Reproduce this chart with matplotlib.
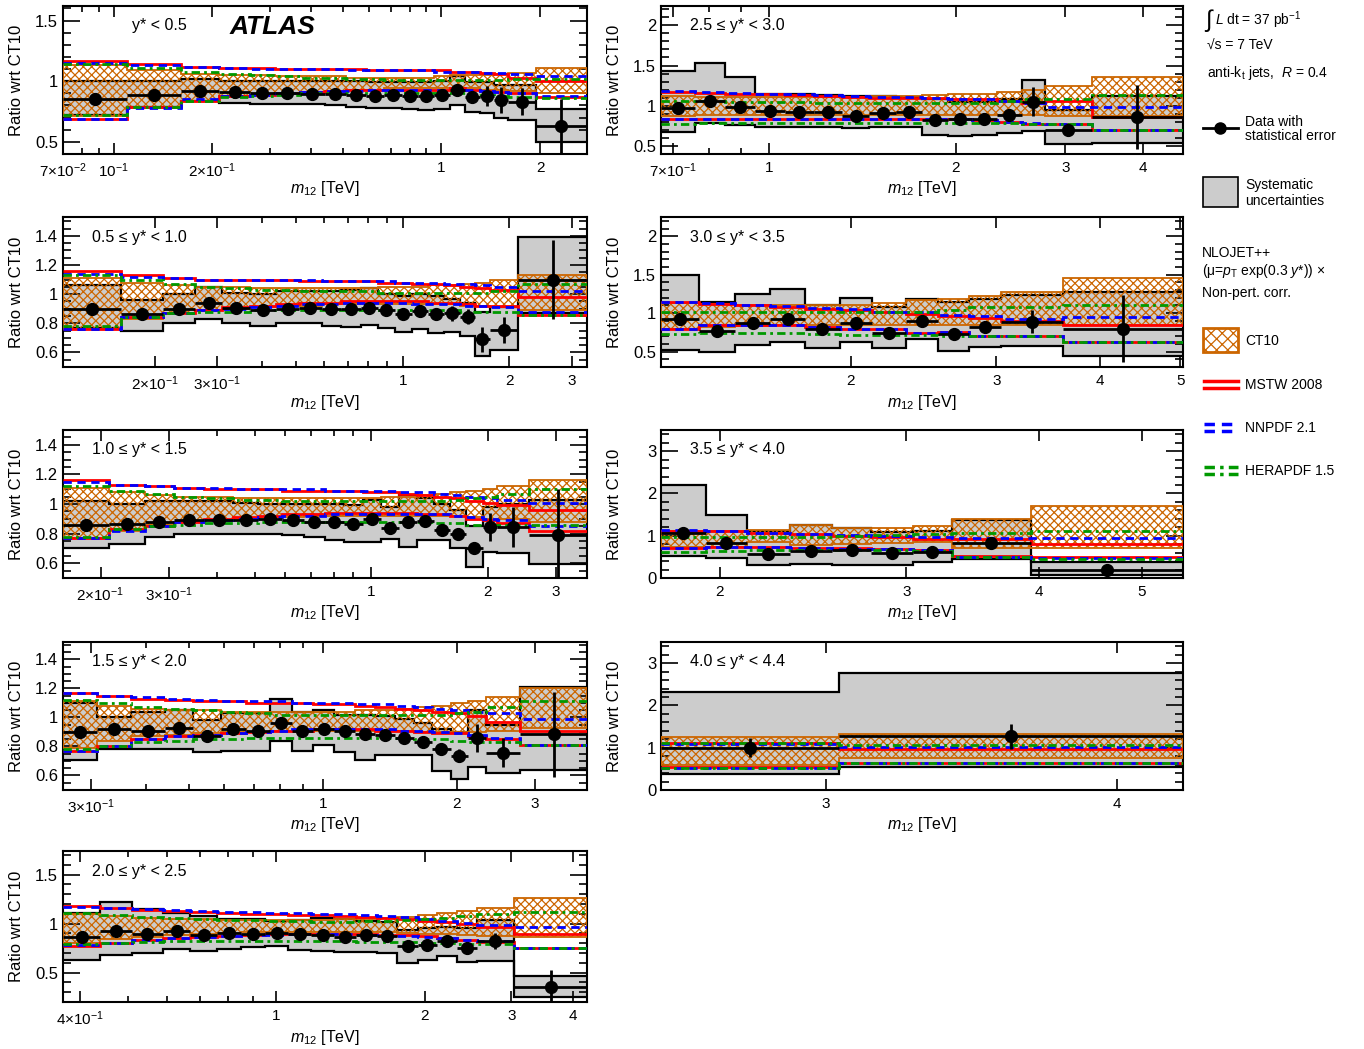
import matplotlib
matplotlib.use('Agg')
import matplotlib.pyplot as plt
import numpy as np
from matplotlib.ticker import (FixedLocator, FixedFormatter, LogLocator, NullFormatter,
                               MultipleLocator, FormatStrFormatter)
from matplotlib.patches import Rectangle

plt.rcParams['font.family'] = ['Liberation Sans', 'DejaVu Sans']
plt.rcParams['mathtext.fontset'] = 'custom'
plt.rcParams['mathtext.rm'] = 'Liberation Sans'
plt.rcParams['mathtext.it'] = 'Liberation Sans:italic'
plt.rcParams['mathtext.bf'] = 'Liberation Sans:bold'
plt.rcParams['hatch.linewidth'] = 0.9

GRAY = '#cccccc'
ORANGE = '#cc6600'
GREEN = '#009900'
HATCH = 'xxxx'

# ---------------- data (ratio wrt CT10), bins in TeV ----------------
# y* < 0.5
p1_edges = [0.07, 0.11, 0.16, 0.21, 0.26, 0.31, 0.37, 0.44, 0.51, 0.59, 0.67, 0.76, 0.85, 0.95, 1.06, 1.18, 1.31, 1.45, 1.6, 1.94, 2.78]
p1_data = [0.855, 0.885, 0.92, 0.91, 0.90, 0.905, 0.895, 0.895, 0.89, 0.877, 0.89, 0.88, 0.877, 0.89, 0.93, 0.87, 0.877, 0.845, 0.83, 0.63]
p1_stat = [0.005, 0.005, 0.005, 0.005, 0.005, 0.005, 0.005, 0.005, 0.005, 0.008, 0.01, 0.01, 0.012, 0.015, 0.03, 0.05, 0.08, 0.11, 0.11, 0.22]
p1_sys_lo = [0.72, 0.79, 0.84, 0.82, 0.815, 0.81, 0.81, 0.80, 0.79, 0.78, 0.78, 0.77, 0.76, 0.77, 0.80, 0.745, 0.74, 0.70, 0.68, 0.50]
p1_sys_hi = [1.00, 1.00, 1.02, 1.0, 1.0, 1.0, 1.0, 1.0, 1.0, 0.99, 0.99, 0.99, 0.99, 1.0, 1.04, 0.99, 0.99, 0.97, 0.97, 0.77]
p1_ct10_lo = [0.71, 0.78, 0.84, 0.88, 0.89, 0.90, 0.91, 0.92, 0.93, 0.93, 0.94, 0.94, 0.94, 0.94, 0.94, 0.94, 0.93, 0.93, 0.92, 0.90]
p1_ct10_hi = [1.13, 1.09, 1.06, 1.05, 1.05, 1.04, 1.04, 1.04, 1.03, 1.03, 1.03, 1.03, 1.03, 1.04, 1.05, 1.05, 1.05, 1.06, 1.07, 1.11]
p1_mstw_lo = [0.69, 0.79, 0.84, 0.88, 0.89, 0.90, 0.91, 0.92, 0.93, 0.93, 0.93, 0.93, 0.93, 0.93, 0.94, 0.93, 0.92, 0.91, 0.90, 0.87]
p1_mstw_hi = [1.17, 1.14, 1.12, 1.11, 1.11, 1.10, 1.10, 1.10, 1.10, 1.09, 1.09, 1.09, 1.09, 1.09, 1.08, 1.08, 1.07, 1.06, 1.03, 1.0]
p1_nnpdf_lo = [0.69, 0.78, 0.85, 0.88, 0.89, 0.90, 0.91, 0.92, 0.92, 0.93, 0.93, 0.93, 0.93, 0.93, 0.93, 0.93, 0.92, 0.91, 0.90, 0.88]
p1_nnpdf_hi = [1.15, 1.13, 1.12, 1.11, 1.10, 1.10, 1.10, 1.10, 1.09, 1.09, 1.09, 1.09, 1.09, 1.08, 1.08, 1.08, 1.07, 1.07, 1.06, 1.04]
p1_hera_lo = [0.72, 0.79, 0.84, 0.87, 0.88, 0.89, 0.90, 0.90, 0.90, 0.90, 0.90, 0.90, 0.90, 0.90, 0.90, 0.89, 0.89, 0.88, 0.87, 0.86]
p1_hera_hi = [1.14, 1.11, 1.08, 1.06, 1.05, 1.04, 1.03, 1.03, 1.02, 1.02, 1.01, 1.01, 1.01, 1.01, 1.01, 1.01, 1.01, 1.01, 1.02, 1.02]

# 0.5 <= y* < 1.0
p2_edges = [0.11, 0.16, 0.21, 0.26, 0.31, 0.37, 0.44, 0.51, 0.59, 0.67, 0.76, 0.85, 0.95, 1.06, 1.18, 1.31, 1.45, 1.6, 1.76, 2.12, 3.31]
p2_data = [0.898, 0.861, 0.895, 0.941, 0.902, 0.891, 0.898, 0.902, 0.895, 0.898, 0.902, 0.891, 0.861, 0.884, 0.861, 0.868, 0.845, 0.689, 0.753, 1.10]
p2_stat = [0.005, 0.005, 0.005, 0.005, 0.005, 0.005, 0.005, 0.005, 0.005, 0.006, 0.008, 0.01, 0.012, 0.015, 0.025, 0.05, 0.05, 0.085, 0.09, 0.27]
p2_sys_lo = [0.765, 0.75, 0.80, 0.83, 0.80, 0.78, 0.80, 0.80, 0.78, 0.775, 0.79, 0.765, 0.74, 0.76, 0.735, 0.74, 0.71, 0.575, 0.615, 0.87]
p2_sys_hi = [1.06, 0.96, 1.0, 1.05, 1.01, 1.0, 1.02, 1.02, 1.02, 1.03, 1.04, 1.0, 0.99, 1.0, 0.99, 0.97, 0.94, 0.88, 0.91, 1.39]
p2_ct10_lo = [0.76, 0.83, 0.87, 0.89, 0.90, 0.91, 0.92, 0.92, 0.93, 0.93, 0.93, 0.93, 0.93, 0.93, 0.93, 0.93, 0.92, 0.92, 0.91, 0.89]
p2_ct10_hi = [1.11, 1.08, 1.06, 1.05, 1.05, 1.04, 1.04, 1.04, 1.04, 1.04, 1.04, 1.05, 1.05, 1.05, 1.06, 1.06, 1.07, 1.08, 1.10, 1.13]
p2_mstw_lo = [0.76, 0.84, 0.87, 0.89, 0.91, 0.92, 0.93, 0.94, 0.94, 0.95, 0.95, 0.95, 0.95, 0.95, 0.94, 0.94, 0.93, 0.92, 0.92, 0.86]
p2_mstw_hi = [1.16, 1.13, 1.11, 1.10, 1.10, 1.10, 1.10, 1.09, 1.09, 1.09, 1.09, 1.08, 1.08, 1.07, 1.07, 1.06, 1.05, 1.04, 1.03, 0.98]
p2_nnpdf_lo = [0.76, 0.84, 0.87, 0.89, 0.90, 0.91, 0.92, 0.93, 0.93, 0.94, 0.94, 0.94, 0.94, 0.93, 0.93, 0.93, 0.92, 0.92, 0.91, 0.88]
p2_nnpdf_hi = [1.14, 1.12, 1.11, 1.10, 1.10, 1.10, 1.10, 1.10, 1.09, 1.09, 1.09, 1.09, 1.08, 1.08, 1.08, 1.07, 1.07, 1.06, 1.05, 1.02]
p2_hera_lo = [0.78, 0.84, 0.87, 0.88, 0.88, 0.89, 0.89, 0.89, 0.89, 0.89, 0.89, 0.89, 0.89, 0.89, 0.89, 0.89, 0.88, 0.88, 0.88, 0.86]
p2_hera_hi = [1.13, 1.10, 1.07, 1.05, 1.04, 1.03, 1.03, 1.02, 1.02, 1.02, 1.02, 1.01, 1.01, 1.01, 1.01, 1.01, 1.01, 1.01, 1.02, 1.07]

# 1.0 <= y* < 1.5
p3_edges = [0.16, 0.21, 0.26, 0.31, 0.37, 0.44, 0.51, 0.59, 0.67, 0.76, 0.85, 0.95, 1.06, 1.18, 1.31, 1.45, 1.6, 1.76, 1.94, 2.12, 2.55, 3.61]
p3_data = [0.858, 0.862, 0.88, 0.892, 0.892, 0.89, 0.90, 0.892, 0.88, 0.88, 0.865, 0.897, 0.835, 0.88, 0.885, 0.824, 0.796, 0.70, 0.846, 0.846, 0.79]
p3_stat = [0.005, 0.005, 0.005, 0.005, 0.005, 0.005, 0.005, 0.005, 0.005, 0.005, 0.006, 0.008, 0.01, 0.012, 0.015, 0.02, 0.03, 0.04, 0.095, 0.135, 0.31]
p3_sys_lo = [0.70, 0.73, 0.78, 0.80, 0.80, 0.80, 0.80, 0.79, 0.78, 0.755, 0.74, 0.74, 0.765, 0.71, 0.755, 0.755, 0.70, 0.575, 0.675, 0.67, 0.595]
p3_sys_hi = [1.02, 1.0, 1.02, 1.02, 1.02, 1.01, 1.0, 1.0, 1.0, 1.0, 0.99, 1.03, 0.98, 1.06, 1.04, 1.0, 0.96, 0.85, 0.98, 1.0, 1.03]
p3_ct10_lo = [0.77, 0.82, 0.86, 0.88, 0.89, 0.90, 0.91, 0.91, 0.92, 0.92, 0.92, 0.92, 0.92, 0.92, 0.92, 0.92, 0.92, 0.91, 0.90, 0.90, 0.88]
p3_ct10_hi = [1.11, 1.08, 1.06, 1.05, 1.05, 1.04, 1.04, 1.04, 1.04, 1.04, 1.04, 1.04, 1.05, 1.05, 1.06, 1.07, 1.08, 1.09, 1.10, 1.12, 1.16]
p3_mstw_lo = [0.77, 0.83, 0.85, 0.88, 0.90, 0.91, 0.92, 0.93, 0.93, 0.94, 0.94, 0.94, 0.94, 0.94, 0.93, 0.93, 0.92, 0.90, 0.89, 0.87, 0.82]
p3_mstw_hi = [1.16, 1.13, 1.12, 1.11, 1.10, 1.10, 1.10, 1.09, 1.09, 1.09, 1.09, 1.08, 1.08, 1.07, 1.06, 1.05, 1.04, 1.02, 1.01, 0.99, 0.96]
p3_nnpdf_lo = [0.77, 0.82, 0.85, 0.88, 0.89, 0.90, 0.91, 0.92, 0.92, 0.93, 0.93, 0.93, 0.93, 0.93, 0.93, 0.93, 0.92, 0.91, 0.90, 0.89, 0.85]
p3_nnpdf_hi = [1.15, 1.13, 1.12, 1.11, 1.11, 1.10, 1.10, 1.10, 1.10, 1.09, 1.09, 1.09, 1.09, 1.08, 1.08, 1.07, 1.06, 1.05, 1.04, 1.03, 1.01]
p3_hera_lo = [0.78, 0.83, 0.85, 0.86, 0.87, 0.87, 0.88, 0.88, 0.88, 0.88, 0.88, 0.88, 0.88, 0.88, 0.88, 0.87, 0.87, 0.86, 0.86, 0.86, 0.86]
p3_hera_hi = [1.12, 1.09, 1.07, 1.05, 1.04, 1.03, 1.03, 1.02, 1.02, 1.02, 1.02, 1.02, 1.02, 1.02, 1.02, 1.02, 1.03, 1.04, 1.05, 1.07, 1.10]

# 1.5 <= y* < 2.0
p4_edges = [0.26, 0.31, 0.37, 0.44, 0.51, 0.59, 0.67, 0.76, 0.85, 0.95, 1.06, 1.18, 1.31, 1.45, 1.6, 1.76, 1.94, 2.12, 2.33, 2.78, 3.93]
p4_data = [0.90, 0.92, 0.91, 0.928, 0.872, 0.917, 0.906, 0.962, 0.906, 0.92, 0.906, 0.883, 0.876, 0.86, 0.833, 0.78, 0.735, 0.86, 0.758, 0.883]
p4_stat = [0.005, 0.005, 0.005, 0.005, 0.005, 0.006, 0.007, 0.008, 0.008, 0.01, 0.012, 0.015, 0.015, 0.02, 0.025, 0.035, 0.045, 0.095, 0.1, 0.29]
p4_sys_lo = [0.71, 0.78, 0.78, 0.78, 0.76, 0.77, 0.77, 0.84, 0.77, 0.81, 0.765, 0.71, 0.74, 0.74, 0.74, 0.63, 0.575, 0.66, 0.615, 0.64]
p4_sys_hi = [1.10, 1.0, 1.04, 1.05, 0.98, 1.03, 1.03, 1.13, 1.04, 1.05, 1.02, 1.02, 1.01, 0.99, 0.96, 0.92, 0.90, 1.05, 0.95, 1.21]
p4_ct10_lo = [0.79, 0.84, 0.87, 0.88, 0.89, 0.90, 0.90, 0.91, 0.91, 0.91, 0.91, 0.91, 0.91, 0.91, 0.90, 0.90, 0.90, 0.90, 0.91, 0.93]
p4_ct10_hi = [1.11, 1.08, 1.06, 1.05, 1.05, 1.04, 1.04, 1.04, 1.04, 1.04, 1.04, 1.05, 1.05, 1.06, 1.07, 1.08, 1.10, 1.11, 1.14, 1.20]
p4_mstw_lo = [0.77, 0.80, 0.85, 0.87, 0.88, 0.89, 0.90, 0.91, 0.91, 0.92, 0.92, 0.92, 0.91, 0.91, 0.90, 0.89, 0.89, 0.87, 0.85, 0.81]
p4_mstw_hi = [1.17, 1.15, 1.13, 1.12, 1.11, 1.11, 1.10, 1.10, 1.10, 1.09, 1.09, 1.08, 1.07, 1.06, 1.05, 1.04, 1.03, 1.01, 0.97, 0.91]
p4_nnpdf_lo = [0.77, 0.80, 0.85, 0.87, 0.88, 0.89, 0.90, 0.91, 0.92, 0.92, 0.92, 0.92, 0.92, 0.91, 0.91, 0.90, 0.89, 0.88, 0.86, 0.81]
p4_nnpdf_hi = [1.17, 1.15, 1.14, 1.13, 1.12, 1.11, 1.11, 1.11, 1.10, 1.10, 1.10, 1.09, 1.09, 1.08, 1.07, 1.06, 1.05, 1.04, 1.03, 0.99]
p4_hera_lo = [0.78, 0.80, 0.83, 0.84, 0.85, 0.85, 0.86, 0.86, 0.86, 0.86, 0.86, 0.86, 0.86, 0.86, 0.85, 0.85, 0.84, 0.83, 0.83, 0.81]
p4_hera_hi = [1.12, 1.10, 1.07, 1.06, 1.05, 1.04, 1.03, 1.02, 1.02, 1.02, 1.02, 1.02, 1.02, 1.02, 1.02, 1.02, 1.03, 1.04, 1.07, 1.11]

# 2.0 <= y* < 2.5
p5_edges = [0.37, 0.44, 0.51, 0.59, 0.67, 0.76, 0.85, 0.95, 1.06, 1.18, 1.31, 1.45, 1.6, 1.76, 1.94, 2.12, 2.33, 2.55, 3.04, 4.27]
p5_data = [0.864, 0.922, 0.898, 0.922, 0.881, 0.905, 0.898, 0.908, 0.891, 0.881, 0.864, 0.881, 0.871, 0.769, 0.786, 0.823, 0.752, 0.823, 0.354]
p5_stat = [0.005, 0.006, 0.006, 0.007, 0.008, 0.008, 0.01, 0.01, 0.012, 0.015, 0.015, 0.02, 0.02, 0.025, 0.03, 0.05, 0.06, 0.085, 0.17]
p5_sys_lo = [0.626, 0.677, 0.70, 0.745, 0.717, 0.745, 0.76, 0.77, 0.735, 0.717, 0.71, 0.71, 0.704, 0.60, 0.626, 0.67, 0.61, 0.616, 0.25]
p5_sys_hi = [1.11, 1.22, 1.15, 1.11, 1.08, 1.05, 1.05, 1.03, 1.04, 1.06, 1.05, 1.03, 1.02, 0.93, 0.95, 0.97, 0.95, 1.04, 0.47]
p5_ct10_lo = [0.80, 0.84, 0.86, 0.88, 0.89, 0.90, 0.91, 0.91, 0.91, 0.91, 0.91, 0.91, 0.91, 0.90, 0.89, 0.89, 0.88, 0.87, 0.86]
p5_ct10_hi = [1.10, 1.08, 1.06, 1.05, 1.05, 1.04, 1.04, 1.04, 1.04, 1.04, 1.05, 1.05, 1.06, 1.07, 1.09, 1.11, 1.13, 1.16, 1.26]
p5_mstw_lo = [0.77, 0.80, 0.83, 0.85, 0.86, 0.87, 0.88, 0.89, 0.89, 0.89, 0.89, 0.89, 0.88, 0.88, 0.87, 0.85, 0.83, 0.81, 0.75]
p5_mstw_hi = [1.18, 1.16, 1.14, 1.13, 1.12, 1.11, 1.10, 1.10, 1.09, 1.09, 1.08, 1.07, 1.06, 1.05, 1.03, 1.02, 1.0, 0.96, 0.89]
p5_nnpdf_lo = [0.78, 0.80, 0.83, 0.85, 0.86, 0.87, 0.88, 0.88, 0.89, 0.89, 0.89, 0.88, 0.88, 0.87, 0.86, 0.85, 0.83, 0.82, 0.75]
p5_nnpdf_hi = [1.17, 1.16, 1.15, 1.14, 1.13, 1.12, 1.12, 1.11, 1.11, 1.10, 1.10, 1.09, 1.08, 1.07, 1.05, 1.03, 1.01, 0.99, 0.97]
p5_hera_lo = [0.79, 0.80, 0.81, 0.82, 0.82, 0.82, 0.82, 0.82, 0.82, 0.82, 0.82, 0.81, 0.81, 0.81, 0.80, 0.80, 0.79, 0.79, 0.75]
p5_hera_hi = [1.11, 1.09, 1.07, 1.06, 1.05, 1.04, 1.04, 1.03, 1.03, 1.02, 1.02, 1.03, 1.03, 1.04, 1.05, 1.06, 1.08, 1.10, 1.12]

# 2.5 <= y* < 3.0
r1_edges = [0.67, 0.76, 0.85, 0.95, 1.06, 1.18, 1.31, 1.45, 1.6, 1.76, 1.94, 2.12, 2.33, 2.55, 2.78, 3.31, 4.64]
r1_data = [0.97, 1.06, 0.99, 0.94, 0.92, 0.92, 0.876, 0.91, 0.92, 0.82, 0.83, 0.84, 0.89, 1.05, 0.70, 0.86]
r1_stat = [0.03, 0.06, 0.02, 0.02, 0.02, 0.02, 0.02, 0.02, 0.025, 0.025, 0.03, 0.04, 0.05, 0.18, 0.05, 0.4]
r1_sys_lo = [0.67, 0.78, 0.76, 0.74, 0.74, 0.74, 0.72, 0.74, 0.74, 0.64, 0.63, 0.64, 0.66, 0.68, 0.52, 0.54]
r1_sys_hi = [1.43, 1.53, 1.36, 1.14, 1.14, 1.13, 1.12, 1.12, 1.11, 1.08, 1.05, 1.05, 1.08, 1.32, 0.95, 1.12]
r1_ct10_lo = [0.87, 0.88, 0.88, 0.88, 0.88, 0.88, 0.88, 0.88, 0.88, 0.88, 0.88, 0.88, 0.88, 0.88, 0.87, 0.87]
r1_ct10_hi = [1.12, 1.11, 1.11, 1.11, 1.11, 1.11, 1.11, 1.12, 1.12, 1.13, 1.14, 1.15, 1.17, 1.20, 1.24, 1.36]
r1_mstw_lo = [0.83, 0.83, 0.84, 0.84, 0.84, 0.84, 0.84, 0.84, 0.84, 0.83, 0.83, 0.82, 0.80, 0.77, 0.77, 0.70]
r1_mstw_hi = [1.17, 1.16, 1.15, 1.14, 1.13, 1.12, 1.11, 1.10, 1.10, 1.10, 1.09, 1.08, 1.06, 1.04, 1.06, 0.86]
r1_nnpdf_lo = [0.83, 0.83, 0.84, 0.84, 0.84, 0.84, 0.84, 0.84, 0.84, 0.84, 0.83, 0.82, 0.80, 0.78, 0.77, 0.70]
r1_nnpdf_hi = [1.18, 1.17, 1.16, 1.15, 1.14, 1.13, 1.12, 1.11, 1.11, 1.10, 1.09, 1.08, 1.06, 1.04, 0.99, 0.98]
r1_hera_lo = [0.77, 0.78, 0.78, 0.78, 0.78, 0.78, 0.78, 0.78, 0.78, 0.78, 0.78, 0.78, 0.78, 0.77, 0.77, 0.70]
r1_hera_hi = [1.06, 1.06, 1.05, 1.05, 1.05, 1.04, 1.04, 1.04, 1.04, 1.03, 1.03, 1.04, 1.06, 1.08, 1.09, 1.13]

# 3.0 <= y* < 3.5
r2_edges = [1.18, 1.31, 1.45, 1.6, 1.76, 1.94, 2.12, 2.33, 2.55, 2.78, 3.04, 3.61, 5.04]
r2_data = [0.92, 0.77, 0.87, 0.92, 0.80, 0.875, 0.746, 0.90, 0.724, 0.82, 0.89, 0.80]
r2_stat = [0.04, 0.03, 0.04, 0.04, 0.04, 0.04, 0.04, 0.05, 0.05, 0.08, 0.15, 0.43]
r2_sys_lo = [0.52, 0.49, 0.59, 0.63, 0.55, 0.62, 0.55, 0.66, 0.51, 0.56, 0.57, 0.44]
r2_sys_hi = [1.49, 1.15, 1.25, 1.32, 1.10, 1.20, 1.08, 1.18, 1.15, 1.18, 1.24, 1.28]
r2_ct10_lo = [0.80, 0.82, 0.83, 0.84, 0.84, 0.85, 0.85, 0.85, 0.85, 0.85, 0.85, 0.85]
r2_ct10_hi = [1.13, 1.12, 1.11, 1.10, 1.10, 1.11, 1.13, 1.17, 1.19, 1.22, 1.27, 1.46]
r2_mstw_lo = [0.80, 0.85, 0.845, 0.845, 0.82, 0.80, 0.79, 0.74, 0.76, 0.70, 0.70, 0.62]
r2_mstw_hi = [1.14, 1.12, 1.10, 1.08, 1.06, 1.04, 1.01, 0.99, 0.96, 0.94, 0.90, 0.84]
r2_nnpdf_lo = [0.79, 0.85, 0.84, 0.84, 0.82, 0.80, 0.79, 0.74, 0.75, 0.70, 0.70, 0.62]
r2_nnpdf_hi = [1.15, 1.13, 1.11, 1.09, 1.07, 1.05, 1.02, 1.01, 0.98, 0.96, 0.92, 0.95]
r2_hera_lo = [0.73, 0.74, 0.74, 0.74, 0.73, 0.72, 0.72, 0.71, 0.70, 0.70, 0.70, 0.62]
r2_hera_hi = [1.02, 1.02, 1.02, 1.02, 1.02, 1.02, 1.02, 1.02, 1.04, 1.08, 1.08, 1.10]

# 3.5 <= y* < 4.0
r3_edges = [1.76, 1.94, 2.12, 2.33, 2.55, 2.78, 3.04, 3.31, 3.93, 5.47]
r3_data = [1.07, 0.836, 0.57, 0.637, 0.653, 0.59, 0.61, 0.83, 0.20]
r3_stat = [0.08, 0.05, 0.04, 0.04, 0.05, 0.05, 0.06, 0.1, 0.1]
r3_sys_lo = [0.51, 0.47, 0.30, 0.33, 0.30, 0.30, 0.38, 0.44, 0.07]
r3_sys_hi = [2.2, 1.5, 1.1, 1.25, 1.18, 1.08, 1.12, 1.38, 0.37]
r3_ct10_lo = [0.73, 0.73, 0.85, 0.77, 0.80, 0.82, 0.85, 0.70, 0.70]
r3_ct10_hi = [1.10, 1.10, 1.13, 1.25, 1.18, 1.19, 1.24, 1.40, 1.70]
r3_mstw_lo = [0.72, 0.74, 0.74, 0.72, 0.70, 0.68, 0.66, 0.51, 0.50]
r3_mstw_hi = [1.11, 1.10, 1.07, 1.04, 1.00, 0.96, 0.93, 0.93, 0.81]
r3_nnpdf_lo = [0.70, 0.73, 0.73, 0.70, 0.69, 0.69, 0.66, 0.50, 0.48]
r3_nnpdf_hi = [1.14, 1.10, 1.06, 1.04, 1.01, 0.99, 0.97, 0.95, 0.95]
r3_hera_lo = [0.62, 0.64, 0.66, 0.67, 0.66, 0.66, 0.65, 0.50, 0.45]
r3_hera_hi = [0.97, 0.96, 0.96, 0.98, 0.99, 1.01, 1.03, 1.07, 1.11]

# 4.0 <= y* < 4.4
r4_edges = [2.55, 3.04, 4.27]
r4_data = [1.0, 1.27]
r4_stat = [0.22, 0.3]
r4_sys_lo = [0.37, 0.55]
r4_sys_hi = [2.32, 2.77]
r4_ct10_lo = [0.60, 0.76]
r4_ct10_hi = [1.26, 1.33]
r4_mstw_lo = [0.55, 0.64]
r4_mstw_hi = [1.10, 0.98]
r4_nnpdf_lo = [0.53, 0.63]
r4_nnpdf_hi = [1.09, 1.02]
r4_hera_lo = [0.51, 0.65]
r4_hera_hi = [1.11, 1.06]

labels = ['y* < 0.5', '0.5 \u2264 y* < 1.0', '1.0 \u2264 y* < 1.5', '1.5 \u2264 y* < 2.0',
          '2.0 \u2264 y* < 2.5', '2.5 \u2264 y* < 3.0', '3.0 \u2264 y* < 3.5',
          '3.5 \u2264 y* < 4.0', '4.0 \u2264 y* < 4.4']


def draw_panel(ax, edges, data, stat, sys_lo, sys_hi, ct_lo, ct_hi,
               ms_lo, ms_hi, nn_lo, nn_hi, he_lo, he_hi):
    edges = np.asarray(edges)
    ax.set_xscale('log')
    ax.stairs(sys_hi, edges, baseline=sys_lo, fill=True, facecolor=GRAY,
              edgecolor='none', lw=0, zorder=1)
    ax.stairs(sys_hi, edges, baseline=None, color='black', lw=1.6, zorder=2)
    ax.stairs(sys_lo, edges, baseline=None, color='black', lw=1.6, zorder=2)
    ax.stairs(ct_hi, edges, baseline=ct_lo, fill=True, facecolor='none',
              edgecolor=ORANGE, hatch=HATCH, lw=1.3, zorder=3)
    styles = [(ms_lo, ms_hi, 'red', '-'),
              (nn_lo, nn_hi, 'blue', (0, (3, 2))),
              (he_lo, he_hi, GREEN, (0, (3, 1.5, 1, 1.5)))]
    for lo, hi, c, ls in styles:
        ax.stairs(hi, edges, baseline=None, color=c, ls=ls, lw=2, zorder=4)
        ax.stairs(lo, edges, baseline=None, color=c, ls=ls, lw=2, zorder=4)
    centres = np.sqrt(edges[:-1] * edges[1:])
    ax.errorbar(centres, data, yerr=stat,
                xerr=[centres - edges[:-1], edges[1:] - centres],
                fmt='o', color='black', ms=8.5, lw=2, capsize=0, zorder=5)
    ax.set_xlim(edges[0], edges[-1])


def style_axis(ax, ylim, xticks, xlabels, ymaj, ymin, label, lx=29):
    ax.set_ylim(ylim)
    ax.xaxis.set_major_locator(FixedLocator(xticks))
    ax.xaxis.set_major_formatter(FixedFormatter(xlabels))
    ax.xaxis.set_minor_locator(LogLocator(base=10, subs=np.arange(1, 10) * 1.0, numticks=50))
    ax.xaxis.set_minor_formatter(NullFormatter())
    ax.yaxis.set_major_locator(MultipleLocator(ymaj))
    ax.yaxis.set_minor_locator(MultipleLocator(ymin))
    ax.yaxis.set_major_formatter(FormatStrFormatter('%g'))
    ax.tick_params(which='both', direction='in', top=True, right=True, width=1.2)
    ax.tick_params(axis='y', which='major', length=12)
    ax.tick_params(axis='y', which='minor', length=6)
    ax.tick_params(axis='x', which='major', length=8)
    ax.tick_params(axis='x', which='minor', length=4.5)
    ax.tick_params(axis='x', pad=5, labelsize=11)
    ax.tick_params(axis='y', labelsize=12)
    for s in ax.spines.values():
        s.set_linewidth(1.5)
    ax.set_xlabel(r'$m_{12}$ [TeV]', fontsize=11.5)
    ax.xaxis.set_label_coords(0.5, -0.17)
    ax.set_ylabel('Ratio wrt CT10', fontsize=12)
    w = ax.get_position().width * 1364
    ax.yaxis.set_label_coords(-39 / w, 0.5)
    ax.text(lx / w, 0.865, label, transform=ax.transAxes, fontsize=11.5, va='center')


fig = plt.figure(figsize=(13.64, 10.49), dpi=100)
W, H = 1364, 1049
tops = [6, 217, 430, 642, 851]
bottoms = [154, 367, 578, 790, 1002]


def add_ax(x, w, row):
    return fig.add_axes([x / W, 1 - bottoms[row] / H, w / W, (bottoms[row] - tops[row]) / H])


xl_a = r'$7{\times}10^{-2}$'
xl_b = r'$10^{-1}$'
xl_2 = r'$2{\times}10^{-1}$'
xl_3 = r'$3{\times}10^{-1}$'
xl_4 = r'$4{\times}10^{-1}$'
xl_7 = r'$7{\times}10^{-1}$'

# left column
ax = add_ax(63, 524, 0)
draw_panel(ax, p1_edges, p1_data, p1_stat, p1_sys_lo, p1_sys_hi, p1_ct10_lo, p1_ct10_hi,
           p1_mstw_lo, p1_mstw_hi, p1_nnpdf_lo, p1_nnpdf_hi, p1_hera_lo, p1_hera_hi)
style_axis(ax, (0.4, 1.62), [0.07, 0.1, 0.2, 1, 2], [xl_a, xl_b, xl_2, '1', '2'], 0.5, 0.1, labels[0], lx=69)
ax.text(167 / 524, 1 - 21 / 148, 'ATLAS', transform=ax.transAxes, fontsize=19,
        fontweight='bold', style='italic', va='center')

ax = add_ax(63, 524, 1)
draw_panel(ax, p2_edges, p2_data, p2_stat, p2_sys_lo, p2_sys_hi, p2_ct10_lo, p2_ct10_hi,
           p2_mstw_lo, p2_mstw_hi, p2_nnpdf_lo, p2_nnpdf_hi, p2_hera_lo, p2_hera_hi)
style_axis(ax, (0.5, 1.53), [0.2, 0.3, 1, 2, 3], [xl_2, xl_3, '1', '2', '3'], 0.2, 0.05, labels[1])

ax = add_ax(63, 524, 2)
draw_panel(ax, p3_edges, p3_data, p3_stat, p3_sys_lo, p3_sys_hi, p3_ct10_lo, p3_ct10_hi,
           p3_mstw_lo, p3_mstw_hi, p3_nnpdf_lo, p3_nnpdf_hi, p3_hera_lo, p3_hera_hi)
style_axis(ax, (0.5, 1.5), [0.2, 0.3, 1, 2, 3], [xl_2, xl_3, '1', '2', '3'], 0.2, 0.05, labels[2])

ax = add_ax(63, 524, 3)
draw_panel(ax, p4_edges, p4_data, p4_stat, p4_sys_lo, p4_sys_hi, p4_ct10_lo, p4_ct10_hi,
           p4_mstw_lo, p4_mstw_hi, p4_nnpdf_lo, p4_nnpdf_hi, p4_hera_lo, p4_hera_hi)
style_axis(ax, (0.5, 1.52), [0.3, 1, 2, 3], [xl_3, '1', '2', '3'], 0.2, 0.05, labels[3])

ax = add_ax(63, 524, 4)
draw_panel(ax, p5_edges, p5_data, p5_stat, p5_sys_lo, p5_sys_hi, p5_ct10_lo, p5_ct10_hi,
           p5_mstw_lo, p5_mstw_hi, p5_nnpdf_lo, p5_nnpdf_hi, p5_hera_lo, p5_hera_hi)
style_axis(ax, (0.2, 1.74), [0.4, 1, 2, 3, 4], [xl_4, '1', '2', '3', '4'], 0.5, 0.1, labels[4])

# right column
ax = add_ax(661, 522, 0)
draw_panel(ax, r1_edges, r1_data, r1_stat, r1_sys_lo, r1_sys_hi, r1_ct10_lo, r1_ct10_hi,
           r1_mstw_lo, r1_mstw_hi, r1_nnpdf_lo, r1_nnpdf_hi, r1_hera_lo, r1_hera_hi)
style_axis(ax, (0.4, 2.24), [0.7, 1, 2, 3, 4], [xl_7, '1', '2', '3', '4'], 0.5, 0.1, labels[5])

ax = add_ax(661, 522, 1)
draw_panel(ax, r2_edges, r2_data, r2_stat, r2_sys_lo, r2_sys_hi, r2_ct10_lo, r2_ct10_hi,
           r2_mstw_lo, r2_mstw_hi, r2_nnpdf_lo, r2_nnpdf_hi, r2_hera_lo, r2_hera_hi)
style_axis(ax, (0.3, 2.25), [2, 3, 4, 5], ['2', '3', '4', '5'], 0.5, 0.1, labels[6])

ax = add_ax(661, 522, 2)
draw_panel(ax, r3_edges, r3_data, r3_stat, r3_sys_lo, r3_sys_hi, r3_ct10_lo, r3_ct10_hi,
           r3_mstw_lo, r3_mstw_hi, r3_nnpdf_lo, r3_nnpdf_hi, r3_hera_lo, r3_hera_hi)
style_axis(ax, (0, 3.5), [2, 3, 4, 5], ['2', '3', '4', '5'], 1, 0.2, labels[7])

ax = add_ax(661, 522, 3)
draw_panel(ax, r4_edges, r4_data, r4_stat, r4_sys_lo, r4_sys_hi, r4_ct10_lo, r4_ct10_hi,
           r4_mstw_lo, r4_mstw_hi, r4_nnpdf_lo, r4_nnpdf_hi, r4_hera_lo, r4_hera_hi)
style_axis(ax, (0, 3.5), [3, 4], ['3', '4'], 1, 0.2, labels[8])

# legend / annotation column, laid out in pixel units
lax = fig.add_axes([0, 0, 1, 1])
lax.set_xlim(0, W)
lax.set_ylim(H, 0)
lax.axis('off')
fs = 10
lax.text(1204, 21, r'$\int$', fontsize=17, va='center')
lax.text(1215, 20, r'$L$ dt = 37 pb$^{-1}$', fontsize=fs, va='center')
lax.text(1207, 46, '\u221as = 7 TeV', fontsize=fs, va='center')
lax.text(1207, 73, r'anti-k$_\mathregular{t}$ jets,  $R$ = 0.4', fontsize=fs, va='center')

lax.plot([1203, 1238], [128, 128], color='black', lw=2)
lax.plot([1220], [128], 'o', color='black', ms=8)
lax.text(1245, 129, 'Data with\nstatistical error', fontsize=fs, va='center', linespacing=1.0)

lax.add_patch(Rectangle((1203, 177), 35, 30, facecolor=GRAY, edgecolor='black', lw=1.2))
lax.text(1245, 193, 'Systematic\nuncertainties', fontsize=fs, va='center', linespacing=1.1)

lax.text(1202, 253, 'NLOJET++', fontsize=fs, va='center')
lax.text(1202, 271, r'($\mathregular{\mu}$=$p_\mathregular{T}$ exp(0.3 $y$*)) $\times$', fontsize=fs, va='center')
lax.text(1202, 293, 'Non-pert. corr.', fontsize=fs, va='center')

lax.add_patch(Rectangle((1203, 328), 35, 24, facecolor='none', edgecolor=ORANGE, hatch='xxx', lw=2))
lax.text(1245, 341, 'CT10', fontsize=fs, va='center')

for yy in (381, 388):
    lax.plot([1204, 1238], [yy, yy], color='red', lw=2.5)
lax.text(1245, 385, 'MSTW 2008', fontsize=fs, va='center')
for yy in (424, 431):
    lax.plot([1204, 1238], [yy, yy], color='blue', lw=2.5, ls=(0, (3, 2)))
lax.text(1245, 428, 'NNPDF 2.1', fontsize=fs, va='center')
for yy in (467, 474):
    lax.plot([1204, 1238], [yy, yy], color=GREEN, lw=2.5, ls=(0, (3, 1.5, 1, 1.5)))
lax.text(1245, 471, 'HERAPDF 1.5', fontsize=fs, va='center')

fig.savefig('out.png', dpi=100)
